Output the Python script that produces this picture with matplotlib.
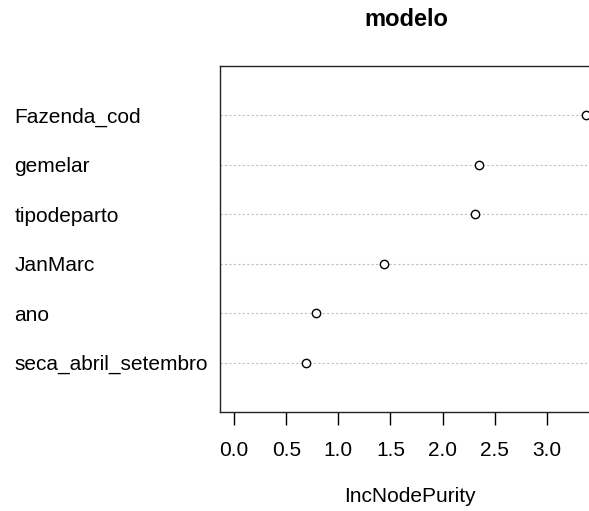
import matplotlib.pyplot as plt

# Variable importance (randomForest varImpPlot style)
variables = ["seca_abril_setembro", "ano", "JanMarc", "tipodeparto", "gemelar", "Fazenda_cod"]
purity = [0.69, 0.79, 1.44, 2.31, 2.35, 3.375]
xticks = [0.0, 0.5, 1.0, 1.5, 2.0, 2.5, 3.0]

plt.rcParams["font.family"] = ["Liberation Sans", "DejaVu Sans"]

fig = plt.figure(figsize=(5.89, 5.11), dpi=100)
# the right edge of the box is cut off in the reference, so the axes run past the figure
ax = fig.add_axes([220 / 589, 99 / 511, 380 / 589, 346 / 511])

ypos = list(range(1, len(variables) + 1))
for y in ypos:
    ax.axhline(y, color="#c0c0c0", linestyle=(0, (2, 2)), linewidth=0.8, zorder=1)
ax.plot(purity, ypos, "o", markerfacecolor="white", markeredgecolor="black",
        markersize=6, markeredgewidth=1.0, zorder=3)

ax.set_ylim(0, len(variables) + 1)
ax.set_xlim(-0.135, 3.51)
ax.set_xticks(xticks)
ax.set_xticklabels([f"{t:.1f}" for t in xticks], fontsize=15)
ax.tick_params(axis="x", length=9, width=1, pad=12, direction="out")
ax.set_yticks(ypos)
ax.set_yticklabels(variables, fontsize=15, ha="left")
ax.tick_params(axis="y", length=0, pad=148)

for s in ax.spines.values():
    s.set_color("#222222")
    s.set_linewidth(1)

ax.set_xlabel("IncNodePurity", fontsize=15, labelpad=19)
fig.text(406 / 589, 1 - 20 / 511, "modelo", ha="center", va="center",
         fontsize=17, fontweight="bold")

fig.savefig("out.png", dpi=100)
